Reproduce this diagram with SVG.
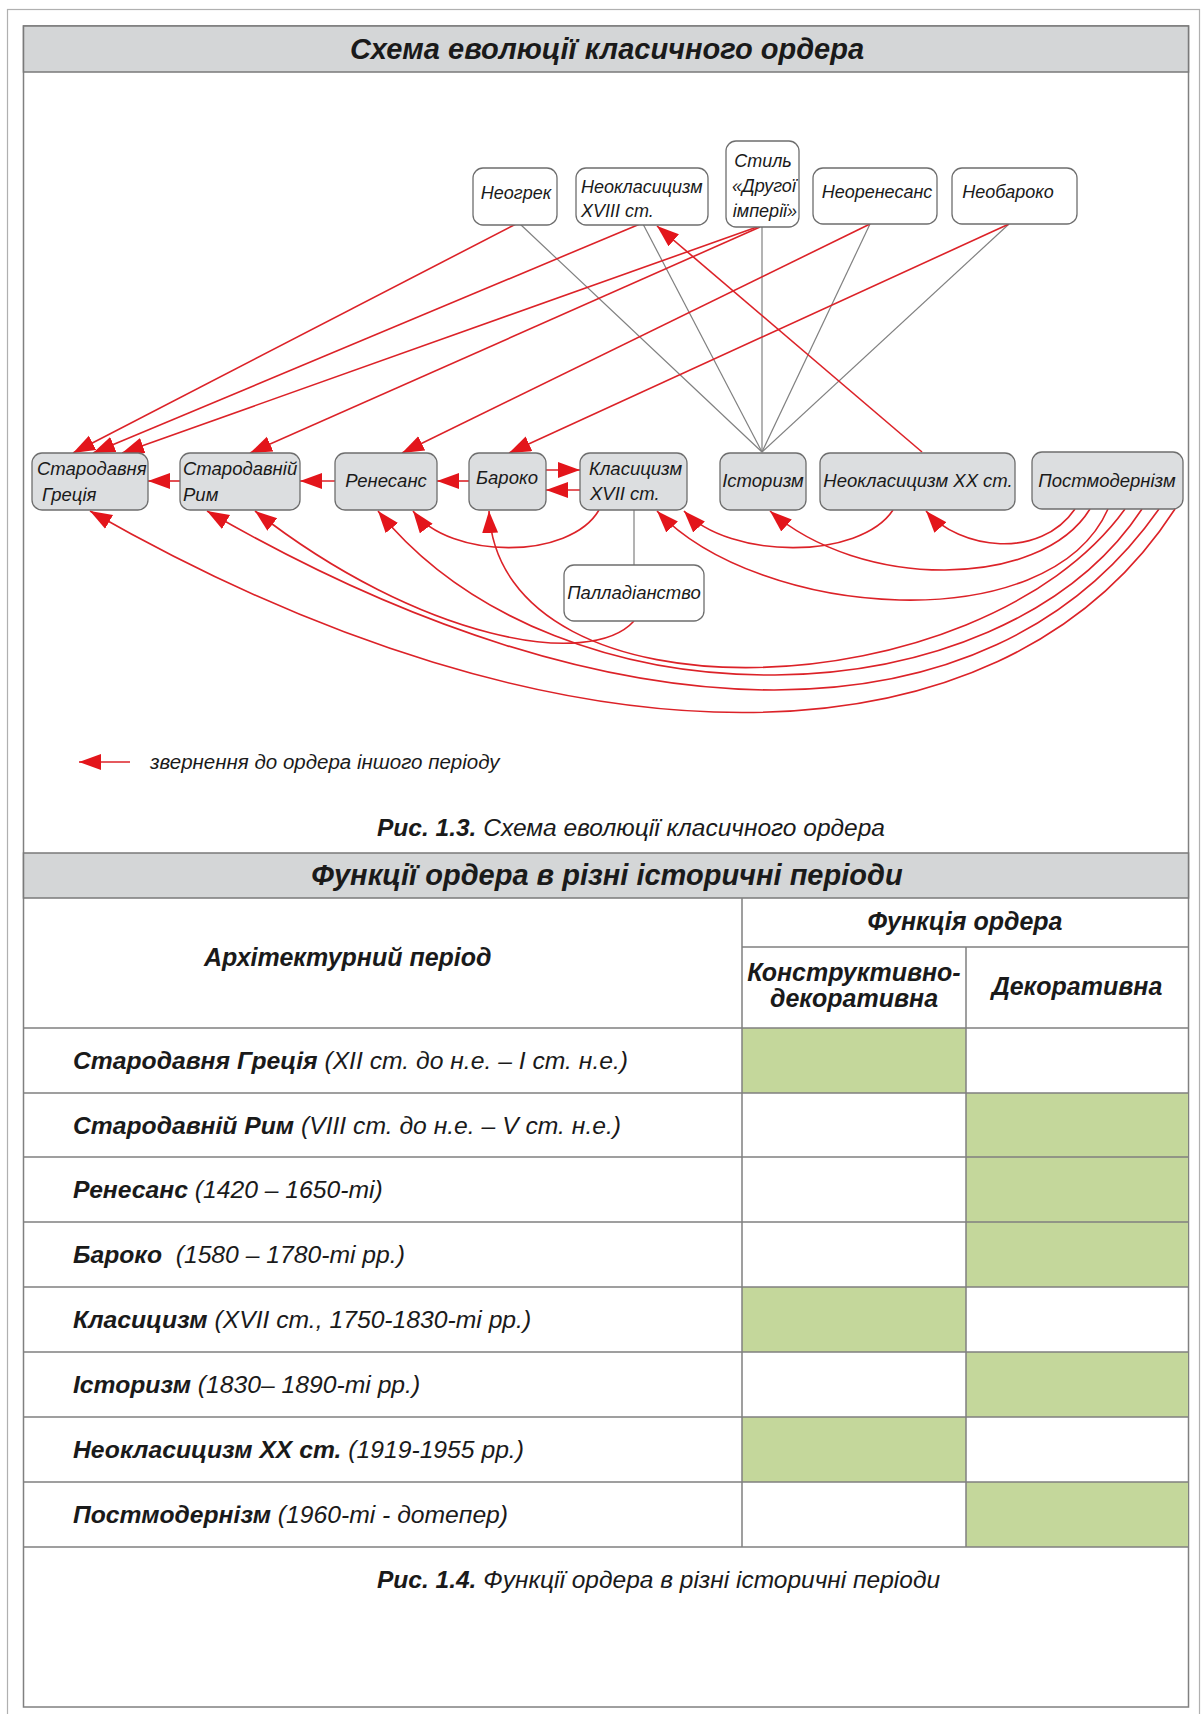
<svg xmlns="http://www.w3.org/2000/svg" width="1203" height="1714" viewBox="0 0 1203 1714">
<defs>
<marker id="ah" markerUnits="userSpaceOnUse" markerWidth="24" markerHeight="18" refX="22" refY="8" orient="auto"><path d="M0,0 L22,8 L0,16 z" fill="#e3151b"/></marker>
</defs>
<style>
.t{font-family:"Liberation Sans",Arial,sans-serif;font-style:italic;fill:#1a1a1a}
.n{font-size:18px}
.m{font-size:18.5px}
.c{text-anchor:middle}
.w{fill:#fff;stroke:#6e6e6e;stroke-width:1.3}
.g{fill:#dcdee0;stroke:#6e6e6e;stroke-width:1.3}
.ra{fill:none;stroke:#dc2228;stroke-width:1.6;marker-end:url(#ah)}
.gl{fill:none;stroke:#808080;stroke-width:1.2}
.bar{fill:#d4d6d7;stroke:#7a7a7a;stroke-width:1.5}
.tl{stroke:#808080;stroke-width:1.5;fill:none}
.b{font-weight:bold}
.gr{fill:#c4d79b}
.hd{font-size:29px;font-weight:bold}
.th{font-size:25px;font-weight:bold}
.row{font-size:24.7px}
.cap{font-size:24.5px}
</style>
<rect x="0" y="0" width="1203" height="1714" fill="#fff"/>
<rect x="7.5" y="9.5" width="1192" height="1712" fill="none" stroke="#b0b0b0" stroke-width="1.2"/>
<rect x="23.5" y="26" width="1165" height="1681" fill="#fff" stroke="#808080" stroke-width="1.5"/>

<g id="title1">
<rect class="bar" x="23.5" y="26" width="1165" height="46"/>
<text class="t hd c" x="607" y="59">Схема еволюції класичного ордера</text>
</g>

<g id="connectors">
<path class="gl" d="M520,224 L762,452"/>
<path class="gl" d="M643,224 L762,452"/>
<path class="gl" d="M762,227 L762,452"/>
<path class="gl" d="M870,224 L762,452"/>
<path class="gl" d="M1009,224 L762,452"/>
<path class="gl" d="M634,509 L634,565"/>
<path class="ra" d="M516,224 L73,453"/>
<path class="ra" d="M640,224 L93,453"/>
<path class="ra" d="M757,227 L122,453"/>
<path class="ra" d="M760,227 L250,453"/>
<path class="ra" d="M870,224 L402,453"/>
<path class="ra" d="M1009,224 L509,453"/>
<path class="ra" d="M922,452 L657,226"/>
<path class="ra" d="M180,481 L148,481"/>
<path class="ra" d="M335,481 L300,481"/>
<path class="ra" d="M469,481 L437,481"/>
<path class="ra" d="M546,470 L580,470"/>
<path class="ra" d="M580,490 L546,490"/>
<path class="ra" d="M1075,509 C1040,560 960,550 926,511"/>
<path class="ra" d="M1090,509 C1040,590 860,590 770,511"/>
<path class="ra" d="M1108,509 C1050,640 760,620 657,511"/>
<path class="ra" d="M1125,509 C980,710 500,730 489,511"/>
<path class="ra" d="M1142,509 C1000,725 560,735 378,511"/>
<path class="ra" d="M1159,509 C990,750 620,750 207,511"/>
<path class="ra" d="M1175,509 C1000,780 560,780 90,511"/>
<path class="ra" d="M893,510 C860,560 730,560 684,511"/>
<path class="ra" d="M599,510 C570,560 450,560 413,511"/>
<path class="ra" d="M634,621 C590,670 420,640 255,511"/>
<path class="ra" d="M130,762 L79,762"/>
</g>

<g id="n-neogrek"><rect class="w" x="473" y="168" width="84" height="57" rx="10"/><text class="t n c" x="516" y="199">Неогрек</text></g>
<g id="n-neoklas18"><rect class="w" x="576" y="168" width="132" height="57" rx="10"/><text class="t n" x="581" y="193">Неокласицизм</text><text class="t n" x="581" y="217">XVIII ст.</text></g>
<g id="n-styl"><rect class="w" x="726" y="141" width="73" height="86" rx="10"/><text class="t n c" x="763" y="167">Стиль</text><text class="t n c" x="764" y="192">«Другої</text><text class="t n c" x="765" y="217">імперії»</text></g>
<g id="n-neorenes"><rect class="w" x="813" y="168" width="124" height="56" rx="10"/><text class="t n c" x="877" y="198">Неоренесанс</text></g>
<g id="n-neobarok"><rect class="w" x="952" y="168" width="125" height="56" rx="10"/><text class="t n c" x="1008" y="198">Необароко</text></g>

<g id="n-grecia"><rect class="g" x="32" y="453" width="116" height="57" rx="10"/><text class="t m" x="37" y="475">Стародавня</text><text class="t m" x="42" y="501">Греція</text></g>
<g id="n-rym"><rect class="g" x="180" y="453" width="120" height="57" rx="10"/><text class="t m" x="183" y="475">Стародавній</text><text class="t m" x="183" y="501">Рим</text></g>
<g id="n-renes"><rect class="g" x="335" y="453" width="102" height="57" rx="10"/><text class="t m c" x="386" y="487">Ренесанс</text></g>
<g id="n-barok"><rect class="g" x="469" y="453" width="77" height="57" rx="10"/><text class="t m c" x="507" y="484">Бароко</text></g>
<g id="n-klas"><rect class="g" x="580" y="453" width="107" height="57" rx="10"/><text class="t m" x="589" y="475">Класицизм</text><text class="t m" x="590" y="500">XVII ст.</text></g>
<g id="n-istor"><rect class="g" x="720" y="453" width="86" height="57" rx="10"/><text class="t m c" x="763" y="487">Історизм</text></g>
<g id="n-neoklas20"><rect class="g" x="820" y="453" width="195" height="57" rx="10"/><text class="t m c" x="918" y="487">Неокласицизм XX ст.</text></g>
<g id="n-postmod"><rect class="g" x="1032" y="452" width="151" height="57" rx="10"/><text class="t m c" x="1107" y="487">Постмодернізм</text></g>
<g id="n-pallad"><rect class="w" x="564" y="565" width="140" height="56" rx="10"/><text class="t m c" x="634" y="599">Палладіанство</text></g>

<g id="legend"><text class="t" x="150" y="769" font-size="20.5">звернення до ордера іншого періоду</text></g>
<g id="caption1"><text class="t cap" x="377" y="836"><tspan class="b">Рис. 1.3.</tspan> Схема еволюції класичного ордера</text></g>

<g id="title2">
<rect class="bar" x="23.5" y="853" width="1165" height="45"/>
<text class="t hd c" x="607" y="885">Функції ордера в різні історичні періоди</text>
</g>

<g id="table">
<rect class="gr" x="742" y="1028" width="224" height="65"/>
<rect class="gr" x="966" y="1093" width="222" height="64"/>
<rect class="gr" x="966" y="1157" width="222" height="65"/>
<rect class="gr" x="966" y="1222" width="222" height="65"/>
<rect class="gr" x="742" y="1287" width="224" height="65"/>
<rect class="gr" x="966" y="1352" width="222" height="65"/>
<rect class="gr" x="742" y="1417" width="224" height="65"/>
<rect class="gr" x="966" y="1482" width="222" height="65"/>
<path class="tl" d="M742,898 V1547 M966,947 V1547 M742,947 H1188 M24,1028 H1188 M24,1093 H1188 M24,1157 H1188 M24,1222 H1188 M24,1287 H1188 M24,1352 H1188 M24,1417 H1188 M24,1482 H1188 M24,1547 H1188"/>
<text class="t th" x="204" y="966">Архітектурний період</text>
<text class="t th c" x="965" y="930">Функція ордера</text>
<text class="t th c" x="854" y="981">Конструктивно-</text>
<text class="t th c" x="854" y="1007">декоративна</text>
<text class="t th c" x="1077" y="995">Декоративна</text>
<text class="t row" x="73" y="1069"><tspan class="b">Стародавня Греція</tspan> (XII ст. до н.е. – I ст. н.е.)</text>
<text class="t row" x="73" y="1134"><tspan class="b">Стародавній Рим</tspan> (VIII ст. до н.е. – V ст. н.е.)</text>
<text class="t row" x="73" y="1198"><tspan class="b">Ренесанс</tspan> (1420 – 1650-ті)</text>
<text class="t row" x="73" y="1263" style="white-space:pre"><tspan class="b">Бароко</tspan>  (1580 – 1780-ті рр.)</text>
<text class="t row" x="73" y="1328"><tspan class="b">Класицизм</tspan> (XVII ст., 1750-1830-ті рр.)</text>
<text class="t row" x="73" y="1393"><tspan class="b">Історизм</tspan> (1830– 1890-ті рр.)</text>
<text class="t row" x="73" y="1458"><tspan class="b">Неокласицизм XX ст.</tspan> (1919-1955 рр.)</text>
<text class="t row" x="73" y="1523"><tspan class="b">Постмодернізм</tspan> (1960-ті - дотепер)</text>
</g>

<g id="caption2"><text class="t cap" x="377" y="1588"><tspan class="b">Рис. 1.4.</tspan> Функції ордера в різні історичні періоди</text></g>
</svg>
